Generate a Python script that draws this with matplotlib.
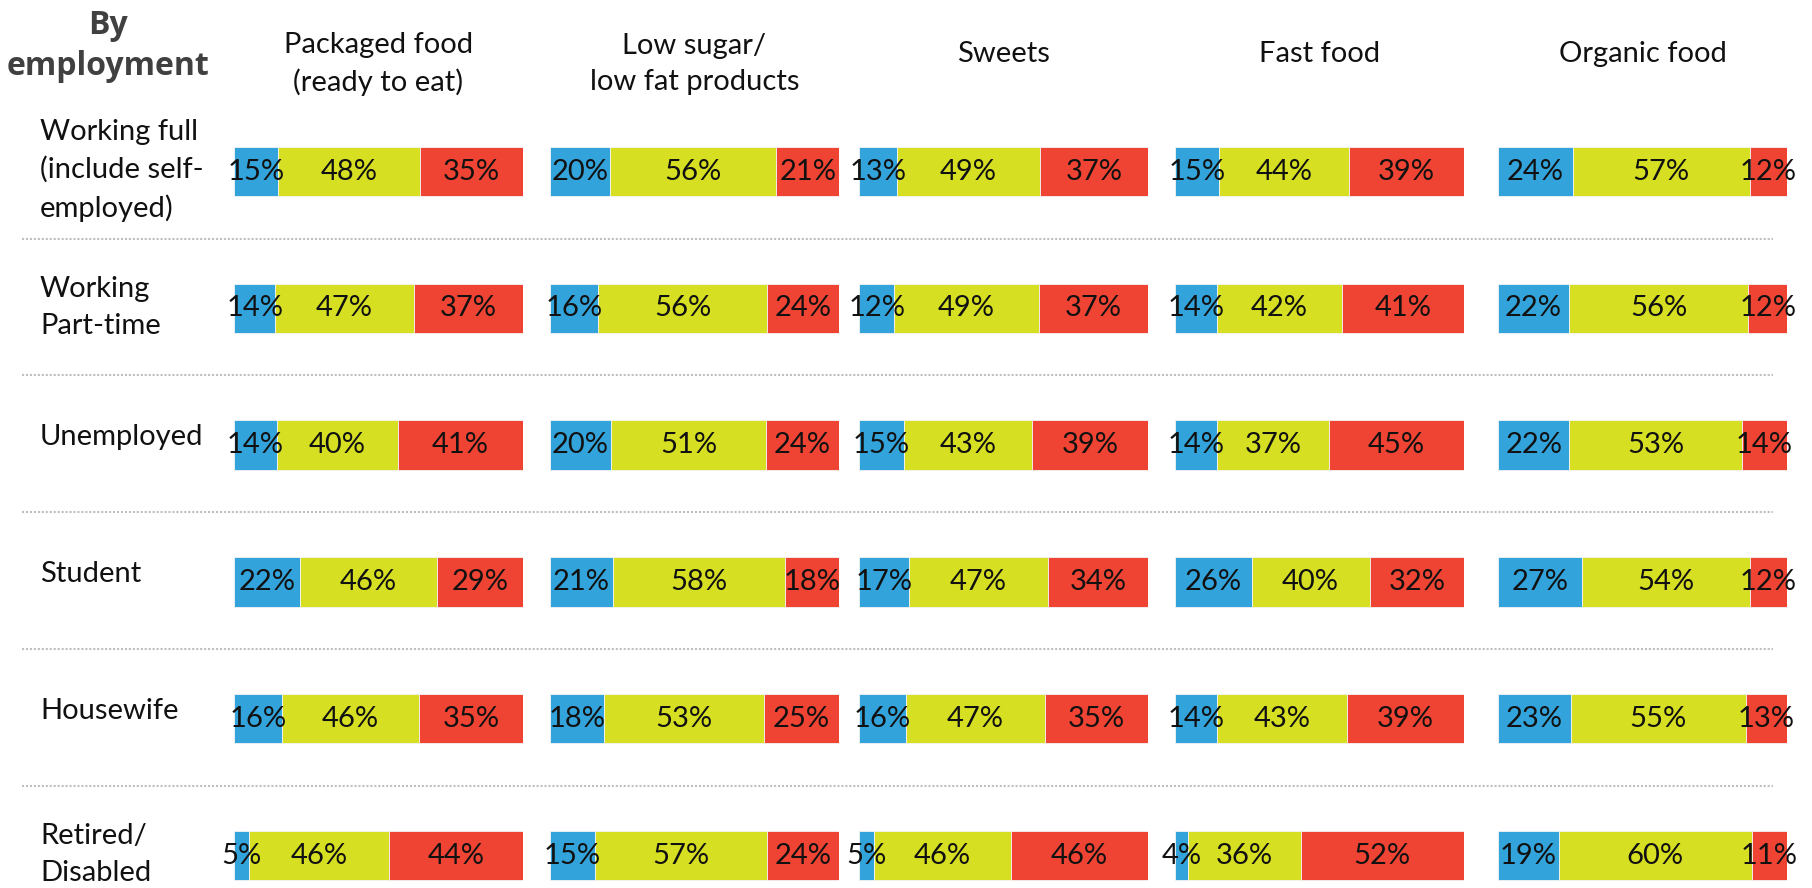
import matplotlib.pyplot as plt
import numpy as np

# data
groups = ["Working full\n(include self-\nemployed)", "Working\nPart-time", "Unemployed",
          "Student", "Housewife", "Retired/\nDisabled"]
products = ["Packaged food\n(ready to eat)", "Low sugar/\nlow fat products", "Sweets",
            "Fast food", "Organic food"]

blue = {
    "Packaged food\n(ready to eat)": [15, 14, 14, 22, 16, 5],
    "Low sugar/\nlow fat products": [20, 16, 20, 21, 18, 15],
    "Sweets": [13, 12, 15, 17, 16, 5],
    "Fast food": [15, 14, 14, 26, 14, 4],
    "Organic food": [24, 22, 22, 27, 23, 19],
}
yellow = {
    "Packaged food\n(ready to eat)": [48, 47, 40, 46, 46, 46],
    "Low sugar/\nlow fat products": [56, 56, 51, 58, 53, 57],
    "Sweets": [49, 49, 43, 47, 47, 46],
    "Fast food": [44, 42, 37, 40, 43, 36],
    "Organic food": [57, 56, 53, 54, 55, 60],
}
red = {
    "Packaged food\n(ready to eat)": [35, 37, 41, 29, 35, 44],
    "Low sugar/\nlow fat products": [21, 24, 24, 18, 25, 24],
    "Sweets": [37, 37, 39, 34, 35, 46],
    "Fast food": [39, 41, 45, 32, 39, 52],
    "Organic food": [12, 12, 14, 12, 13, 11],
}

colors = ["#33A3DB", "#D6DF22", "#EF4433"]

plt.rcParams["font.family"] = ["Lato", "DejaVu Sans"]

W, H = 1812, 888
fig = plt.figure(figsize=(W / 100, H / 100), dpi=100)

# layout in pixels
row_top = 171.5
row_step = 136.8
panel_x = [234, 550, 859, 1175, 1498]
panel_w = 289
y_lim = ((H - row_top) / row_step, -row_top / row_step)

# background axes in pixel units for decorations
bg = fig.add_axes([0, 0, 1, 1])
bg.set_xlim(0, W)
bg.set_ylim(H, 0)
bg.axis("off")

bg.text(108, 46, "By\nemployment", ha="center", va="center", fontsize=23,
        fontweight="bold", color="#404040", family=["Open Sans", "DejaVu Sans"],
        linespacing=1.35)

for i, g in enumerate(groups):
    shift = -8 if "\n" not in g else -1
    bg.text(40, row_top + i * row_step + shift, g, ha="left", va="center",
            fontsize=21, color="#111111", linespacing=1.5)
    if i < len(groups) - 1:
        y = row_top + (i + 0.49) * row_step
        bg.plot([22, 1773], [y, y], color="#BFBFBF", lw=1.5,
                linestyle=(0, (1, 0.9)), solid_capstyle="butt",
                dash_capstyle="butt")

for j, p in enumerate(products):
    ax = fig.add_axes([panel_x[j] / W, 0, panel_w / W, 1])
    b = np.array(blue[p], dtype=float)
    yl = np.array(yellow[p], dtype=float)
    r = np.array(red[p], dtype=float)
    tot = b + yl + r
    segs = [b / tot, yl / tot, r / tot]
    raw = [b, yl, r]
    ypos = np.arange(len(groups))
    left = np.zeros(len(groups))
    for k in range(3):
        ax.barh(ypos, segs[k], left=left, height=0.36, color=colors[k],
                edgecolor="#f4f4f4", linewidth=0.6)
        for i in range(len(groups)):
            ax.text(left[i] + segs[k][i] / 2, ypos[i], f"{int(raw[k][i])}%",
                    ha="center", va="center", fontsize=21, color="#111111")
        left = left + segs[k]
    ax.set_xlim(0, 1)
    ax.set_ylim(*y_lim)
    ax.axis("off")

    cx = panel_x[j] + panel_w / 2
    ty = 64 if "\n" in p else 54
    bg.text(cx, ty, p, ha="center", va="center", fontsize=21,
            color="#111111", linespacing=1.5)

fig.savefig("out.png", dpi=100)
